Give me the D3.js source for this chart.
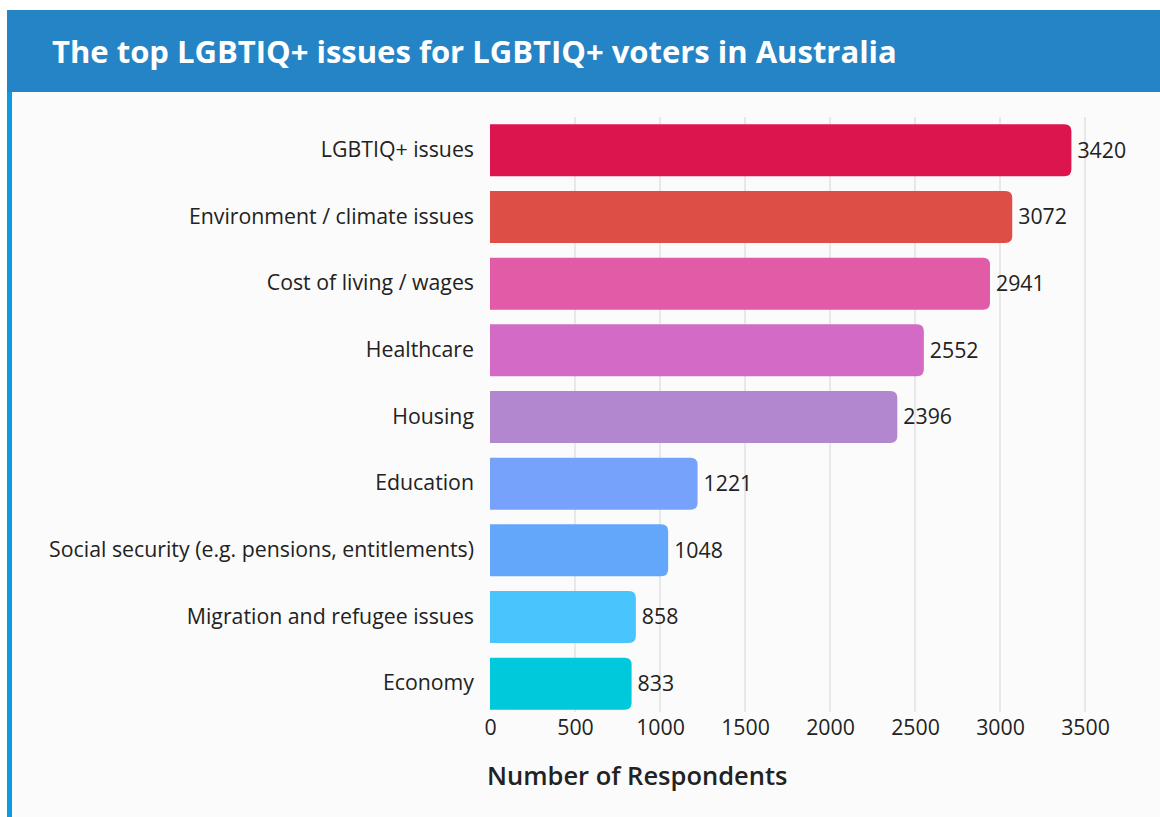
<!DOCTYPE html>
<html>
<head>
<meta charset="utf-8">
<script src="https://cdn.jsdelivr.net/npm/d3@7"></script>
<style>
	body { margin: 0; background: #fff; }
	svg { display: block; font-family: "Open Sans", "Noto Sans", sans-serif; }
</style>
</head>
<body>
<script>
const categories = [
	'LGBTIQ+ issues', 'Environment / climate issues', 'Cost of living / wages',
	'Healthcare', 'Housing', 'Education',
	'Social security (e.g. pensions, entitlements)', 'Migration and refugee issues', 'Economy'
]
const values = [3420, 3072, 2941, 2552, 2396, 1221, 1048, 858, 833]
const barColors = [
	'#dc154f', '#dd4f46', '#e15ba7', '#d36bc6', '#b287cf',
	'#77a2fb', '#63a7fb', '#4ac4fd', '#00c9dc'
]
const ticks = [0, 500, 1000, 1500, 2000, 2500, 3000, 3500]

const width = 1160,
	height = 817,
	plotLeft = 490,
	plotRight = 1085,
	plotTop = 117,
	plotBottom = 717,
	fontSize = '21.3px',
	radius = 7;

let svg = d3.select('body').append('svg')
	.attr('width', width)
	.attr('height', height)

// frame
svg.append('rect').attr('x', 7).attr('y', 10).attr('width', width - 7).attr('height', height - 10)
	.attr('fill', '#fbfbfb')
svg.append('rect').attr('x', 7).attr('y', 92).attr('width', 5).attr('height', height - 92)
	.attr('fill', '#0a9be0')
svg.append('rect').attr('x', 7).attr('y', 10).attr('width', width - 7).attr('height', 82)
	.attr('fill', '#2584c6')
svg.append('text')
	.attr('x', 52).attr('y', 63)
	.attr('fill', '#fff')
	.attr('font-size', '31px')
	.attr('font-weight', 'bold')
	.text('The top LGBTIQ+ issues for LGBTIQ+ voters in Australia')

let x = d3.scaleLinear().domain([0, 3500]).range([plotLeft, plotRight])
let y = d3.scaleBand().domain(categories).range([plotTop, plotBottom]).paddingInner(0.22).paddingOuter(0.11)

// gridlines
svg.append('g').selectAll('line')
	.data(ticks.slice(1))
	.join('line')
	.attr('x1', d => x(d)).attr('x2', d => x(d))
	.attr('y1', plotTop).attr('y2', plotBottom - 5)
	.attr('stroke', '#e2e2e2')
	.attr('stroke-width', 1.5)

// bars, square on the left, rounded on the right
function barPath(d, i) {
	let x0 = x(0), x1 = x(d), y0 = y(categories[i]), h = y.bandwidth()
	let r = Math.min(radius, (x1 - x0))
	return 'M' + x0 + ',' + y0 +
		'H' + (x1 - r) +
		'Q' + x1 + ',' + y0 + ' ' + x1 + ',' + (y0 + r) +
		'V' + (y0 + h - r) +
		'Q' + x1 + ',' + (y0 + h) + ' ' + (x1 - r) + ',' + (y0 + h) +
		'H' + x0 + 'Z'
}

svg.append('g').selectAll('path')
	.data(values)
	.join('path')
	.attr('d', barPath)
	.attr('fill', (d, i) => barColors[i])

// value labels
svg.append('g').selectAll('text')
	.data(values)
	.join('text')
	.attr('x', d => x(d) + 6)
	.attr('y', (d, i) => y(categories[i]) + y.bandwidth() / 2)
	.attr('dy', '0.35em')
	.attr('font-size', fontSize)
	.attr('fill', '#222')
	.text(d => d)

// category labels
let yAxis = svg.append('g')
	.attr('transform', 'translate(' + (plotLeft - 6) + ',0)')
	.call(d3.axisLeft(y).tickSize(0).tickPadding(10))
yAxis.select('.domain').remove()
yAxis.selectAll('text')
	.attr('font-size', fontSize)
	.attr('font-family', '"Open Sans", "Noto Sans", sans-serif')
	.attr('fill', '#222')

// x axis
let xAxis = svg.append('g')
	.attr('transform', 'translate(0,' + (plotBottom) + ')')
	.call(d3.axisBottom(x).tickValues(ticks).tickSize(0).tickPadding(3).tickFormat(d3.format('d')))
xAxis.select('.domain').remove()
xAxis.selectAll('text')
	.attr('font-size', fontSize)
	.attr('font-family', '"Open Sans", "Noto Sans", sans-serif')
	.attr('fill', '#222')

svg.append('text')
	.attr('x', 487).attr('y', 785)
	.attr('font-size', '25.5px')
	.attr('font-weight', '600')
	.attr('fill', '#222')
	.text('Number of Respondents')
</script>
</body>
</html>
